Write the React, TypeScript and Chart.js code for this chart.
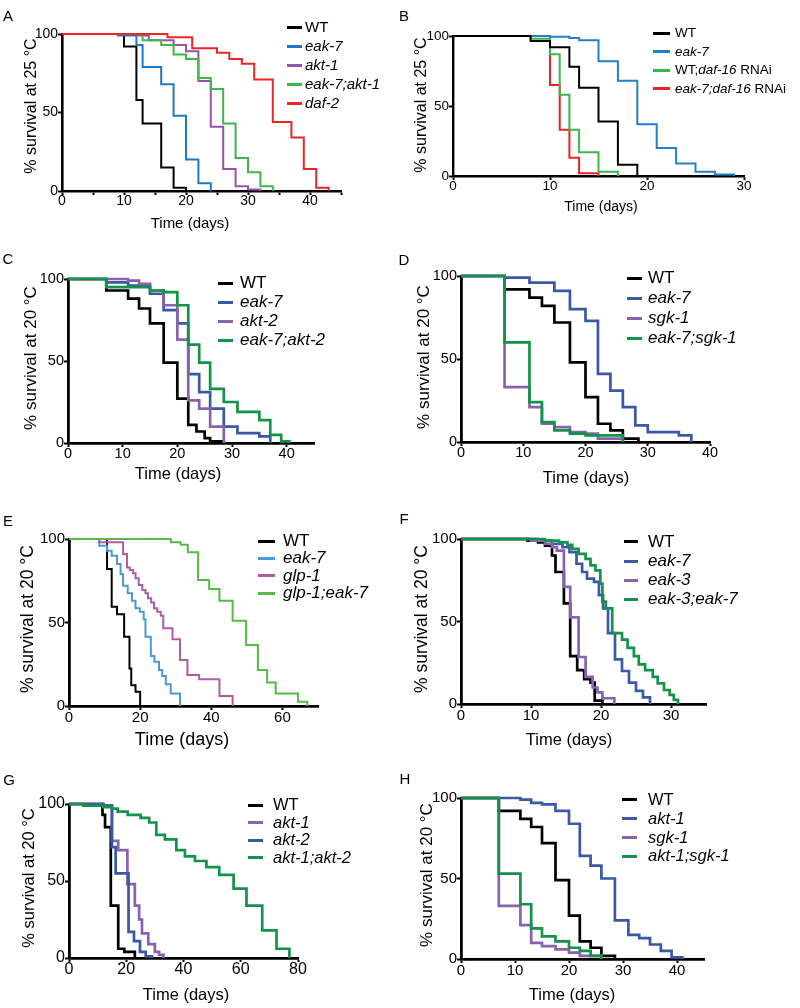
import React, { useEffect, useRef } from "react";
import { Chart, registerables } from "chart.js";

Chart.register(...registerables);

const FONT = '"Liberation Sans", Arial, Helvetica, sans-serif';

type Pt = [number, number]; // [day, % survival] – drop to value at that day
type Seg = [string, boolean]; // [text, italic]

// ---------------- Panel A (25 °C) ----------------
const A_WT: Pt[] = [[0, 100], [10, 92], [12, 58], [13, 43], [16, 15], [18, 2], [20, 0]];
const A_EAK7: Pt[] = [[0, 100], [9, 99], [12, 93], [13, 79], [16, 68], [18, 48], [20, 20], [22, 5], [24, 0]];
const A_AKT1: Pt[] = [[0, 100], [12, 99], [14, 96], [18, 93], [20, 89], [22, 70], [24, 41], [26, 14], [28, 3], [30, 1], [32, 0]];
const A_EAK7_AKT1: Pt[] = [[0, 100], [13, 96], [16, 93], [18, 87], [20, 84], [22, 72], [24, 65], [26, 43], [28, 21], [30, 12], [32, 3], [34, 0]];
const A_DAF2: Pt[] = [[0, 100], [17, 98], [21, 91], [25, 88], [27, 84], [29, 81], [31, 71], [34, 44], [37, 34], [39, 14], [41, 2], [43, 0]];

// ---------------- Panel B (25 °C) ----------------
const B_WT: Pt[] = [[0, 100], [8, 96.5], [10, 92], [12, 78], [13, 63], [15, 39], [17, 8], [19, 0]];
const B_EAK7: Pt[] = [[0, 100], [10, 99.5], [12, 98.5], [13, 97], [15, 82], [17, 68], [19, 37], [21, 20], [23, 9], [25, 3], [27, 1], [29, 0]];
const B_WT_DAF16: Pt[] = [[0, 100], [8, 98], [10, 87], [11, 58], [12, 33], [13, 17], [15, 3], [17, 0]];
const B_EAK7_DAF16: Pt[] = [[0, 100], [10, 65], [11, 33], [12, 13], [13, 2], [15, 0]];

// ---------------- Panel C (20 °C) ----------------
const C_WT: Pt[] = [[0, 100], [7, 93], [11, 88], [13, 82], [15, 73], [17.5, 49], [20, 27], [22, 11], [23.5, 7], [25, 3], [26, 1], [28.5, 0]];
const C_EAK7: Pt[] = [[0, 100], [7, 98], [11, 96], [15, 91], [17.5, 81], [20, 73], [22, 42], [24, 31], [26, 21], [28.5, 10], [31, 6], [35, 4], [37, 0]];
const C_AKT2: Pt[] = [[0, 100], [11, 99], [13, 97], [15, 93], [17.5, 84], [20, 63], [22, 26], [24, 21], [26, 10], [28.5, 0]];
const C_EAK7_AKT2: Pt[] = [[0, 100], [7, 95], [15, 93], [17.5, 92], [20, 84], [22, 60], [24, 49], [26, 33], [28.5, 25], [31, 19], [35, 14], [37, 5], [39, 1], [40.5, 0]];

// ---------------- Panel D (20 °C) ----------------
const D_WT: Pt[] = [[0, 100], [7, 92], [11, 87], [13, 82], [15, 72], [17.5, 48], [20, 27], [22, 11], [24, 7], [26, 2], [28.5, 0]];
const D_EAK7: Pt[] = [[0, 100], [7, 99], [11, 96], [15, 91], [17.5, 80], [20, 73], [22, 41], [24, 31], [26, 21], [28, 10], [30, 6], [35, 4], [37, 0]];
const D_SGK1: Pt[] = [[0, 100], [7, 33], [11, 21], [13, 11], [15, 9], [17.5, 6], [20, 5], [22, 2], [26, 0]];
const D_EAK7_SGK1: Pt[] = [[0, 100], [7, 60], [11, 24], [13, 12], [15, 7], [17.5, 5], [20, 4], [26, 0]];

// ---------------- Panel E (20 °C) ----------------
const E_WT: Pt[] = [[0, 100], [10.7, 82], [12, 59.5], [13.5, 55], [15.5, 41.5], [17, 22.5], [17.5, 12.5], [18.7, 8.5], [20, 0]];
const E_EAK7: Pt[] = [[0, 100], [8.5, 96], [10.7, 93], [12, 90], [13.5, 85], [14.5, 79], [15.2, 72], [16.5, 67.5], [17.7, 63], [18.7, 58.5], [19.9, 56.5], [21, 52], [21.5, 41.5], [23, 30], [24, 26.5], [25.3, 21.5], [26.2, 18], [27.2, 13], [28.6, 7.5], [31.2, 0]];
const E_GLP1: Pt[] = [[0, 100], [8.5, 98], [15.2, 91], [16.3, 83], [17.1, 81.5], [18, 79.5], [18.7, 76.5], [19.6, 72.5], [20.6, 69.5], [21.5, 67.5], [22.2, 64.5], [23.1, 62], [23.9, 58.5], [24.8, 56.5], [25.8, 54], [26.5, 46.5], [29.1, 40], [31.2, 27.5], [33.3, 18.5], [36.6, 16], [42.3, 6], [46, 0]];
const E_GLP1_EAK7: Pt[] = [[0, 100], [28.6, 98], [31.4, 96.5], [33.4, 92], [36.3, 75.5], [39.4, 70], [42.3, 63], [46, 51], [49.8, 36.5], [53.1, 21.5], [55.7, 14], [58.1, 7.5], [64.4, 2.5], [67, 0]];

// ---------------- Panel F (20 °C) ----------------
const F_WT: Pt[] = [[0, 100], [9.5, 99], [11, 98], [12, 96], [13, 90], [13.5, 80], [14.7, 61], [15.6, 29], [16.6, 20.5], [17.6, 15], [18.5, 13], [19.1, 2], [20.2, 0]];
const F_EAK7: Pt[] = [[0, 100], [11, 99], [13, 97], [14.5, 95], [15.5, 92], [16.5, 85], [17.3, 80], [18, 76], [19, 74], [19.7, 66], [20.3, 58], [21, 43], [22, 27], [23, 20], [24, 13], [25, 8], [26, 4], [27, 0]];
const F_EAK3: Pt[] = [[0, 100], [10, 99], [12, 97], [13, 95], [13.7, 93], [14.7, 71], [15.6, 52.5], [16.8, 28.5], [17.8, 16.5], [18.8, 10], [19.5, 7], [20.2, 3.5], [21.9, 0]];
const F_EAK3_EAK7: Pt[] = [[0, 100], [12, 99], [14, 98], [15.2, 96.5], [15.9, 94], [16.8, 91], [17.8, 88], [18.5, 84], [19.2, 81], [19.9, 73], [20.2, 62], [20.7, 58], [21.6, 43], [23, 39], [23.8, 34], [24.7, 29], [25.4, 24], [26.3, 20.5], [27.4, 16.5], [28.1, 12.5], [29, 8.5], [29.8, 5.5], [30.4, 2.5], [31, 0]];

// ---------------- Panel G (20 °C) ----------------
const G_WT: Pt[] = [[0, 100], [11.7, 93], [12.6, 85], [14.6, 34], [17.2, 6], [19.3, 4], [23, 0]];
const G_AKT1: Pt[] = [[0, 100], [12, 99], [15, 76], [17.2, 70], [20.4, 48], [23, 34], [24.5, 25], [25.5, 16], [27.7, 9], [30, 4], [31.5, 2], [33, 0]];
const G_AKT2: Pt[] = [[0, 100], [12, 99], [15, 72], [16.3, 55], [20.8, 17], [22.7, 11], [24.8, 4], [26.8, 1], [29, 0]];
const G_AKT1_AKT2: Pt[] = [[0, 100], [5, 99], [12, 98], [15, 97], [17, 95], [20.5, 93], [25, 91], [28, 88], [30.5, 80], [33.5, 77], [37.5, 70], [40.5, 66], [44, 63], [48, 59], [52.5, 54], [57.5, 45], [62, 34], [67.5, 18], [72.5, 6], [77, 0]];

// ---------------- Panel H (20 °C) ----------------
const H_WT: Pt[] = [[0, 100], [7, 92], [11, 87], [13, 82], [15, 72], [17.5, 49], [20, 27], [22, 11], [24, 7], [26, 2], [28.5, 0]];
const H_AKT1: Pt[] = [[0, 100], [11, 99], [13, 97], [15, 96], [17.5, 92], [20, 84], [22, 64], [24, 58], [26, 50], [28.5, 24], [31, 15], [33, 13], [35, 9], [37, 5], [39, 1], [41, 0]];
const H_SGK1: Pt[] = [[0, 100], [7, 33], [11, 21], [13, 10], [15, 8], [17.5, 6], [20, 4], [22, 2], [26, 0]];
const H_AKT1_SGK1: Pt[] = [[0, 100], [7, 53], [11, 34], [13, 19], [15, 14], [17.5, 11], [20, 7], [22, 5], [24, 2], [26, 0]];

// ---------------- tick labels ----------------
const Y_TICKS = [0, 50, 100];
const X_TICKS_45 = [0, 10, 20, 30, 40];
const X_TICKS_30 = [0, 10, 20, 30];
const X_TICKS_40 = [0, 10, 20, 30, 40];
const X_TICKS_35 = [0, 10, 20, 30];
const X_TICKS_70 = [0, 20, 40, 60];
const X_TICKS_80 = [0, 20, 40, 60, 80];

// ---------------- legend labels ----------------
const L_WT: Seg[] = [["WT", false]];
const it = (s: string): Seg[] => [[s, true]];
const L_WT_DAF16: Seg[] = [["WT;", false], ["daf-16", true], [" RNAi", false]];
const L_EAK7_DAF16: Seg[] = [["eak-7;daf-16", true], [" RNAi", false]];

const X_TITLE = "Time (days)";
const Y_TITLE_25 = "% survival at 25 \u00B0C";
const Y_TITLE_20 = "% survival at 20 \u00B0C";

// ---------------- layout ----------------
const PAD_L = 60;
const PAD_R = 22;
const PAD_T = 12;
const PAD_B = 30;

interface Series { label: Seg[]; color: string; data: Pt[] }
interface PanelCfg {
  letter: string; letterPos: [number, number];
  plot: [number, number, number, number];
  xMax: number; xStep: number; xLabels: number[];
  tickSize: number; tickPad: number; lw: number; axisW: number;
  firstOnTop?: boolean;
  yTitle: string; yTitlePos: [number, number]; yTitleSize: number;
  xTitlePos: [number, number]; xTitleSize: number;
  legend: { x1: number; x2: number; tx: number; y0: number; dy: number; size: number };
  series: Series[];
}

const K = "#000000";
const PANELS: PanelCfg[] = [
  {
    letter: "A", letterPos: [8, 15], plot: [62, 34, 341, 191], xMax: 45, xStep: 5, xLabels: X_TICKS_45,
    tickSize: 14, tickPad: -1, lw: 2, axisW: 2.6,
    yTitle: Y_TITLE_25, yTitlePos: [31, 106], yTitleSize: 16,
    xTitlePos: [190, 222], xTitleSize: 15,
    legend: { x1: 287, x2: 302, tx: 305, y0: 27, dy: 19.1, size: 15 },
    series: [
      { label: L_WT, color: K, data: A_WT },
      { label: it("eak-7"), color: "#1f78c1", data: A_EAK7 },
      { label: it("akt-1"), color: "#9556a9", data: A_AKT1 },
      { label: it("eak-7;akt-1"), color: "#3fb54b", data: A_EAK7_AKT1 },
      { label: it("daf-2"), color: "#ee2427", data: A_DAF2 },
    ],
  },
  {
    letter: "B", letterPos: [404, 15], plot: [453, 36, 744, 176], xMax: 30, xStep: 10, xLabels: X_TICKS_30,
    tickSize: 13.5, tickPad: 0, lw: 2, axisW: 2.4, firstOnTop: true,
    yTitle: Y_TITLE_25, yTitlePos: [421, 105], yTitleSize: 16,
    xTitlePos: [601, 206], xTitleSize: 14,
    legend: { x1: 653, x2: 670, tx: 675, y0: 33, dy: 18.6, size: 13.5 },
    series: [
      { label: L_WT, color: K, data: B_WT },
      { label: it("eak-7"), color: "#2480c6", data: B_EAK7 },
      { label: L_WT_DAF16, color: "#3cb54a", data: B_WT_DAF16 },
      { label: L_EAK7_DAF16, color: "#ec2027", data: B_EAK7_DAF16 },
    ],
  },
  {
    letter: "C", letterPos: [8, 258], plot: [68, 279, 314, 443], xMax: 45, xStep: 10, xLabels: X_TICKS_45,
    tickSize: 14.5, tickPad: 0, lw: 2.7, axisW: 2.8,
    yTitle: Y_TITLE_20, yTitlePos: [30, 358], yTitleSize: 17,
    xTitlePos: [178, 473], xTitleSize: 16.5,
    legend: { x1: 218, x2: 233, tx: 240, y0: 283.3, dy: 19, size: 17 },
    series: [
      { label: L_WT, color: K, data: C_WT },
      { label: it("eak-7"), color: "#3b58a7", data: C_EAK7 },
      { label: it("akt-2"), color: "#8962ad", data: C_AKT2 },
      { label: it("eak-7;akt-2"), color: "#129447", data: C_EAK7_AKT2 },
    ],
  },
  {
    letter: "D", letterPos: [404, 259], plot: [461, 276, 710, 442], xMax: 40, xStep: 10, xLabels: X_TICKS_40,
    tickSize: 14.5, tickPad: 0, lw: 2.7, axisW: 2.8,
    yTitle: Y_TITLE_20, yTitlePos: [423, 357], yTitleSize: 17,
    xTitlePos: [586, 477], xTitleSize: 16.5,
    legend: { x1: 627, x2: 642, tx: 648, y0: 278.3, dy: 20, size: 17 },
    series: [
      { label: L_WT, color: K, data: D_WT },
      { label: it("eak-7"), color: "#3b58a7", data: D_EAK7 },
      { label: it("sgk-1"), color: "#8962ad", data: D_SGK1 },
      { label: it("eak-7;sgk-1"), color: "#129447", data: D_EAK7_SGK1 },
    ],
  },
  {
    letter: "E", letterPos: [8, 520], plot: [69, 539, 318, 706], xMax: 70, xStep: 20, xLabels: X_TICKS_70,
    tickSize: 15, tickPad: 0, lw: 2, axisW: 2.8,
    yTitle: Y_TITLE_20, yTitlePos: [28, 619], yTitleSize: 17.5,
    xTitlePos: [182, 739], xTitleSize: 18,
    legend: { x1: 258, x2: 275, tx: 283, y0: 541, dy: 17.4, size: 17 },
    series: [
      { label: L_WT, color: K, data: E_WT },
      { label: it("eak-7"), color: "#4b9ad6", data: E_EAK7 },
      { label: it("glp-1"), color: "#b25aa8", data: E_GLP1 },
      { label: it("glp-1;eak-7"), color: "#57b948", data: E_GLP1_EAK7 },
    ],
  },
  {
    letter: "F", letterPos: [404, 518], plot: [461, 539, 706, 704], xMax: 35, xStep: 10, xLabels: X_TICKS_35,
    tickSize: 15, tickPad: 0, lw: 2.7, axisW: 2.8,
    yTitle: Y_TITLE_20, yTitlePos: [422, 619], yTitleSize: 17.5,
    xTitlePos: [569, 739], xTitleSize: 16.5,
    legend: { x1: 624, x2: 638, tx: 648, y0: 541.8, dy: 19.2, size: 17 },
    series: [
      { label: L_WT, color: K, data: F_WT },
      { label: it("eak-7"), color: "#3d5aa9", data: F_EAK7 },
      { label: it("eak-3"), color: "#8a63b0", data: F_EAK3 },
      { label: it("eak-3;eak-7"), color: "#13924a", data: F_EAK3_EAK7 },
    ],
  },
  {
    letter: "G", letterPos: [9, 779], plot: [69, 804, 298, 958], xMax: 80, xStep: 20, xLabels: X_TICKS_80,
    tickSize: 16, tickPad: 0, lw: 2.7, axisW: 2.8,
    yTitle: Y_TITLE_20, yTitlePos: [28, 878], yTitleSize: 16.5,
    xTitlePos: [186, 994], xTitleSize: 16.5,
    legend: { x1: 248, x2: 263, tx: 273, y0: 805, dy: 17.6, size: 16.5 },
    series: [
      { label: L_WT, color: K, data: G_WT },
      { label: it("akt-1"), color: "#8962ad", data: G_AKT1 },
      { label: it("akt-2"), color: "#3b58a7", data: G_AKT2 },
      { label: it("akt-1;akt-2"), color: "#13924a", data: G_AKT1_AKT2 },
    ],
  },
  {
    letter: "H", letterPos: [405, 778], plot: [461, 798, 704, 959], xMax: 45, xStep: 10, xLabels: X_TICKS_45,
    tickSize: 15, tickPad: 0, lw: 2.7, axisW: 2.8,
    yTitle: Y_TITLE_20, yTitlePos: [426, 875], yTitleSize: 17,
    xTitlePos: [572, 994], xTitleSize: 16.5,
    legend: { x1: 622, x2: 637, tx: 648, y0: 799.6, dy: 18.9, size: 16.5 },
    series: [
      { label: L_WT, color: K, data: H_WT },
      { label: it("akt-1"), color: "#3b58a7", data: H_AKT1 },
      { label: it("sgk-1"), color: "#8962ad", data: H_SGK1 },
      { label: it("akt-1;sgk-1"), color: "#13924a", data: H_AKT1_SGK1 },
    ],
  },
];

function SurvivalCanvas({ p }: { p: PanelCfg }) {
  const ref = useRef<HTMLCanvasElement>(null);
  const [L, T, R, B] = p.plot;
  const W = R - L + PAD_L + PAD_R;
  const H = B - T + PAD_T + PAD_B;

  useEffect(() => {
    const n = p.series.length;
    const tickFont = { family: FONT, size: p.tickSize, lineHeight: 1 };
    const grid = {
      display: true,
      drawOnChartArea: false,
      drawTicks: true,
      tickLength: 4,
      tickWidth: 2,
      tickColor: "#000",
      color: "#000",
    };
    const chart = new Chart(ref.current as HTMLCanvasElement, {
      type: "line",
      data: {
        datasets: p.series.map((s, i) => ({
          label: s.label.map((g) => g[0]).join(""),
          data: s.data.map(([x, y]) => ({ x, y })),
          borderColor: s.color,
          backgroundColor: s.color,
          borderWidth: p.lw,
          stepped: "before",
          pointRadius: 0,
          pointHoverRadius: 0,
          fill: false,
          clip: false,
          order: p.firstOnTop ? i : n - i,
          borderCapStyle: "butt",
          borderJoinStyle: "miter",
        })),
      },
      options: {
        animation: false,
        responsive: false,
        maintainAspectRatio: false,
        devicePixelRatio: 1,
        events: [],
        layout: { padding: { left: 0, top: PAD_T, right: PAD_R, bottom: 0 } },
        plugins: { legend: { display: false }, tooltip: { enabled: false }, title: { display: false } },
        scales: {
          x: {
            type: "linear",
            min: 0,
            max: p.xMax,
            afterFit: (s: any) => { s.height = PAD_B; },
            border: { display: true, color: "#000", width: p.axisW },
            grid,
            ticks: {
              stepSize: p.xStep,
              includeBounds: false,
              autoSkip: false,
              maxRotation: 0,
              minRotation: 0,
              padding: p.tickPad,
              color: "#000",
              font: tickFont,
              callback: (v: any) => (p.xLabels.includes(Number(v)) ? String(v) : ""),
            },
          },
          y: {
            type: "linear",
            min: 0,
            max: 100,
            afterFit: (s: any) => { s.width = PAD_L; },
            border: { display: true, color: "#000", width: p.axisW },
            grid,
            ticks: {
              stepSize: 50,
              autoSkip: false,
              padding: 0,
              color: "#000",
              font: tickFont,
              callback: (v: any) => (Y_TICKS.includes(Number(v)) ? String(v) : ""),
            },
          },
        },
      } as any,
    });
    return () => chart.destroy();
  }, []);

  return (
    <canvas
      ref={ref}
      width={W}
      height={H}
      style={{ position: "absolute", left: L - PAD_L, top: T - PAD_T, width: W, height: H }}
    />
  );
}

function Texts({ p }: { p: PanelCfg }) {
  const base: React.CSSProperties = {
    position: "absolute",
    fontFamily: FONT,
    color: "#000",
    whiteSpace: "nowrap",
    lineHeight: 1,
  };
  return (
    <>
      <div style={{ ...base, left: p.letterPos[0], top: p.letterPos[1], fontSize: 15, transform: "translate(-50%,-50%)" }}>
        {p.letter}
      </div>
      <div
        style={{
          ...base,
          left: p.yTitlePos[0],
          top: p.yTitlePos[1],
          fontSize: p.yTitleSize,
          transform: "translate(-50%,-50%) rotate(-90deg)",
        }}
      >
        {p.yTitle}
      </div>
      <div style={{ ...base, left: p.xTitlePos[0], top: p.xTitlePos[1], fontSize: p.xTitleSize, transform: "translate(-50%,-50%)" }}>
        {X_TITLE}
      </div>
      {p.series.map((s, i) => {
        const y = p.legend.y0 + i * p.legend.dy;
        const lh = p.legend.size * 1.2;
        return (
          <React.Fragment key={i}>
            <div
              style={{
                position: "absolute",
                left: p.legend.x1,
                top: y - 1.5,
                width: p.legend.x2 - p.legend.x1,
                height: 3,
                background: s.color,
              }}
            />
            <div style={{ ...base, left: p.legend.tx, top: y - lh * 0.5, fontSize: p.legend.size, lineHeight: lh + "px" }}>
              {s.label.map((g, j) => (
                <span key={j} style={{ fontStyle: g[1] ? "italic" : "normal" }}>
                  {g[0]}
                </span>
              ))}
            </div>
          </React.Fragment>
        );
      })}
    </>
  );
}

export default function App() {
  return (
    <div
      style={{
        position: "absolute",
        left: 0,
        top: 0,
        width: 800,
        height: 1008,
        background: "#fff",
        overflow: "hidden",
      }}
    >
      {PANELS.map((p) => (
        <SurvivalCanvas key={"c" + p.letter} p={p} />
      ))}
      {PANELS.map((p) => (
        <Texts key={"t" + p.letter} p={p} />
      ))}
    </div>
  );
}
